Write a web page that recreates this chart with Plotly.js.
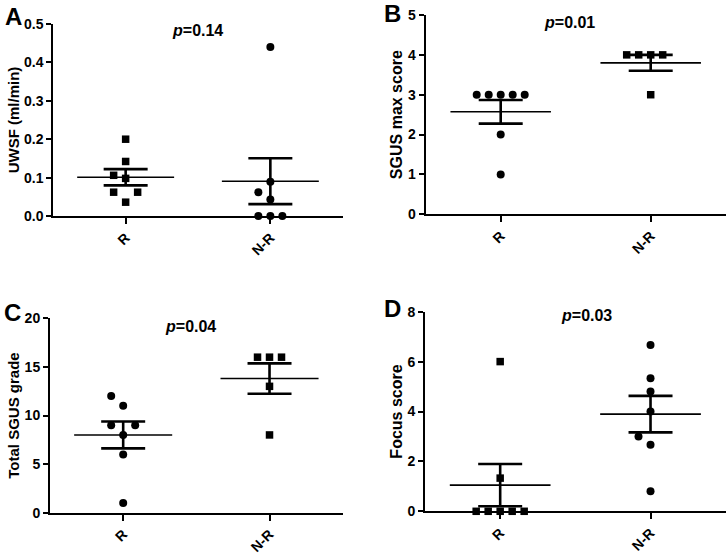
<!DOCTYPE html>
<html>
<head>
<meta charset="utf-8">
<script src="https://cdn.plot.ly/plotly-3.0.1.min.js"></script>
<style>
  html, body { margin: 0; padding: 0; background: #ffffff; }
  #chart { width: 728px; height: 553px; }
</style>
</head>
<body>
<div id="chart"></div>
<script>
// ---------------- data ----------------
const categories = ['R', 'N-R'];

const uwsfR  = [0.036, 0.062, 0.062, 0.098, 0.106, 0.142, 0.200];
const uwsfNR = [0, 0, 0, 0.043, 0.062, 0.089, 0.440];

const sgusMaxR  = [1, 2, 3, 3, 3, 3, 3];
const sgusMaxNR = [3, 4, 4, 4, 4];

const totalSgusR  = [1, 6, 8, 9, 9, 11, 12];
const totalSgusNR = [8, 13, 16, 16, 16];

const focusR  = [0, 0, 0, 0, 0, 1.33, 6];
const focusNR = [0.8, 2.67, 3, 4, 4.8, 5.33, 6.67];

const panelLetters = ['A', 'B', 'C', 'D'];
const pValues = ['0.14', '0.01', '0.04', '0.03'];
const yTitles = ['UWSF (ml/min)', 'SGUS max score', 'Total SGUS grade', 'Focus score'];

// ---------------- layout helpers ----------------
const W = 728, H = 553;
const FONT = 'Arial, "Liberation Sans", Helvetica, sans-serif';

const panels = [
  { r: uwsfR, nr: uwsfNR, symR: 'square', symNR: 'circle', range: [0, 0.5], dtick: 0.1, dec: 1,
    px: [53.3, 342.7], py: [24, 216], pPos: [197, 31], letterPos: [13, 16.5], titleSize: 15 },
  { r: sgusMaxR, nr: sgusMaxNR, symR: 'circle', symNR: 'square', range: [0, 5], dtick: 1, dec: 0,
    px: [425.7, 725.7], py: [15, 214.3], pPos: [569, 23], letterPos: [392, 13.5], titleSize: 16 },
  { r: totalSgusR, nr: totalSgusNR, symR: 'circle', symNR: 'square', range: [0, 20], dtick: 5, dec: 0,
    px: [50, 342.7], py: [318.3, 512.7], pPos: [190, 326], letterPos: [12, 312.5], titleSize: 15 },
  { r: focusR, nr: focusNR, symR: 'square', symNR: 'circle', range: [0, 8], dtick: 2, dec: 0,
    px: [425, 725.7], py: [311.7, 511.3], pPos: [586, 315], letterPos: [392, 308.5], titleSize: 16 }
];

function mean(a) { return a.reduce((s, v) => s + v, 0) / a.length; }
function sem(a) {
  const m = mean(a);
  const v = a.reduce((s, x) => s + (x - m) * (x - m), 0) / (a.length - 1);
  return Math.sqrt(v) / Math.sqrt(a.length);
}

// deterministic column-scatter: points close in value are spread into side slots
function swarm(values, center, pxPerUnitY, slotUnits) {
  const order = values.map((v, i) => i).sort((a, b) => values[a] - values[b]);
  const placed = [];
  const xs = new Array(values.length);
  order.forEach(i => {
    const v = values[i];
    for (let k = 0; k < 50; k++) {
      const slot = k === 0 ? 0 : (k % 2 === 1 ? -(k + 1) / 2 : k / 2);
      const hit = placed.some(p => p.slot === slot && Math.abs(p.v - v) * pxPerUnitY < 11.5);
      if (!hit) { placed.push({ slot: slot, v: v }); xs[i] = center + slot * slotUnits; break; }
    }
  });
  return xs;
}

const traces = [];
const layout = {
  width: W, height: H,
  margin: { l: 0, r: 0, t: 0, b: 0 },
  paper_bgcolor: '#ffffff', plot_bgcolor: '#ffffff',
  showlegend: false,
  font: { family: FONT, color: '#000000' },
  annotations: []
};

panels.forEach((p, k) => {
  const n = k + 1;
  const xa = 'x' + (n === 1 ? '' : n), ya = 'y' + (n === 1 ? '' : n);
  const xKey = 'xaxis' + (n === 1 ? '' : n), yKey = 'yaxis' + (n === 1 ? '' : n);
  const pxPerUnitX = (p.px[1] - p.px[0]) / 2;
  const pxPerUnitY = (p.py[1] - p.py[0]) / (p.range[1] - p.range[0]);
  const slotUnits = 12 / pxPerUnitX;

  [{ vals: p.r, c: 1, sym: p.symR }, { vals: p.nr, c: 2, sym: p.symNR }].forEach(g => {
    const m = mean(g.vals), s = sem(g.vals);
    // individual points
    traces.push({
      type: 'scatter', mode: 'markers', xaxis: xa, yaxis: ya,
      x: swarm(g.vals, g.c, pxPerUnitY, slotUnits), y: g.vals,
      marker: { symbol: g.sym, size: g.sym === 'square' ? 7.5 : 8, color: '#000000' },
      cliponaxis: false
    });
    // mean line
    traces.push({
      type: 'scatter', mode: 'lines', xaxis: xa, yaxis: ya,
      x: [g.c - 0.335, g.c + 0.335], y: [m, m],
      line: { color: '#000000', width: 1.6 }, cliponaxis: false
    });
    // SEM error bar
    traces.push({
      type: 'scatter', mode: 'markers', xaxis: xa, yaxis: ya,
      x: [g.c], y: [m],
      marker: { size: 1, color: 'rgba(0,0,0,0)' },
      error_y: { type: 'data', array: [s], visible: true, color: '#000000', thickness: 2.6, width: 22 },
      cliponaxis: false
    });
  });

  const yTickVals = [], yTickText = [];
  for (let v = p.range[0]; v <= p.range[1] + 1e-9; v += p.dtick) {
    yTickVals.push(v);
    yTickText.push('<b>' + v.toFixed(p.dec) + '</b>');
  }

  layout[xKey] = {
    domain: [p.px[0] / W, p.px[1] / W], anchor: ya, type: 'linear', range: [0.5, 2.5],
    tickvals: [1, 2], ticktext: categories.map(c => '<b>' + c + '</b>'), tickangle: -45,
    ticks: 'outside', ticklen: 6, tickwidth: 2, tickcolor: '#000000',
    showline: true, linewidth: 2, linecolor: '#000000',
    showgrid: false, zeroline: false, fixedrange: true,
    tickfont: { family: FONT, size: 14, color: '#000000' }
  };
  layout[yKey] = {
    domain: [1 - p.py[1] / H, 1 - p.py[0] / H], anchor: xa, range: p.range,
    tickvals: yTickVals, ticktext: yTickText,
    ticks: 'outside', ticklen: 5, tickwidth: 2, tickcolor: '#000000',
    showline: true, linewidth: 2, linecolor: '#000000',
    showgrid: false, zeroline: false, fixedrange: true,
    tickfont: { family: FONT, size: 14, color: '#000000' },
    title: { text: '<b>' + yTitles[k] + '</b>', standoff: 1,
             font: { family: FONT, size: p.titleSize, color: '#000000' } }
  };

  layout.annotations.push({
    xref: 'paper', yref: 'paper', x: p.pPos[0] / W, y: 1 - p.pPos[1] / H,
    xanchor: 'center', yanchor: 'middle', showarrow: false,
    text: '<b><i>p</i>=' + pValues[k] + '</b>',
    font: { family: FONT, size: 16, color: '#000000' }
  });
  layout.annotations.push({
    xref: 'paper', yref: 'paper', x: p.letterPos[0] / W, y: 1 - p.letterPos[1] / H,
    xanchor: 'center', yanchor: 'middle', showarrow: false, borderpad: 0,
    text: '<b>' + panelLetters[k] + '</b>',
    font: { family: FONT, size: 24, color: '#000000' }
  });
});

Plotly.newPlot('chart', traces, layout, { staticPlot: true, displayModeBar: false });
</script>
</body>
</html>
